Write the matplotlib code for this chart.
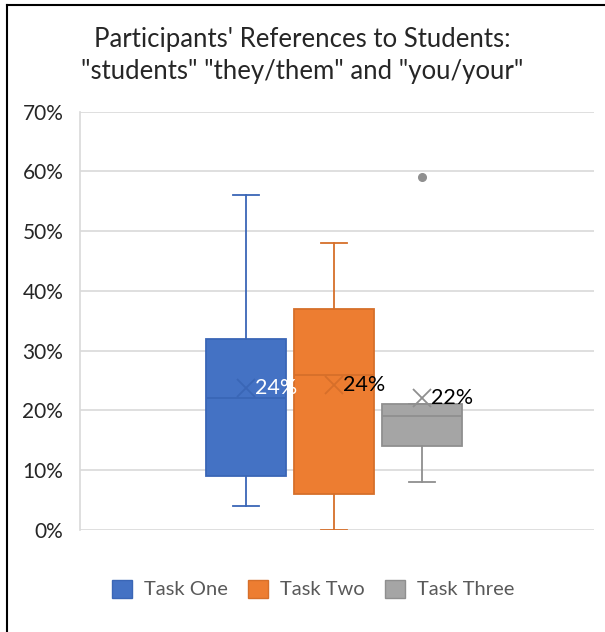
import matplotlib.pyplot as plt
from matplotlib.lines import Line2D
from matplotlib.patches import Patch
from matplotlib.ticker import PercentFormatter

plt.rcParams['font.family'] = ['Lato', 'DejaVu Sans']

# summary stats (percent)
tasks = ['Task One', 'Task Two', 'Task Three']
whislo = [4, 0, 8]
q1 = [9, 6, 14]
med = [22, 26, 19]
q3 = [32, 37, 21]
whishi = [56, 48, 21]
means = [23.7, 24.2, 22.1]
mean_labels = ['24%', '24%', '22%']
fliers = [[], [], [59]]

fills = ['#4472C4', '#ED7D31', '#A5A5A5']
edges = ['#3A66B6', '#D66F2A', '#8F8F8F']
label_colors = ['white', 'black', 'black']
yticks = [0, 10, 20, 30, 40, 50, 60, 70]

W, H = 605, 632
fig = plt.figure(figsize=(W / 100, H / 100), dpi=100)
ax = fig.add_axes([80 / W, 1 - 530 / H, 514 / W, 418.5 / H])

stats = []
for i in range(len(tasks)):
    stats.append(dict(whislo=whislo[i], q1=q1[i], med=med[i], q3=q3[i],
                      whishi=whishi[i], mean=means[i], fliers=fliers[i]))

positions = [-1, 0, 1]
for i, s in enumerate(stats):
    ax.bxp([s], positions=[positions[i]], widths=0.9, patch_artist=True,
           showmeans=False, showcaps=True, manage_ticks=False,
           boxprops=dict(facecolor=fills[i], edgecolor=edges[i], linewidth=1.3),
           medianprops=dict(color=edges[i], linewidth=1.3),
           whiskerprops=dict(color=edges[i], linewidth=1.3),
           capprops=dict(color=edges[i], linewidth=1.3),
           capwidths=0.3,
           flierprops=dict(marker='o', markerfacecolor='#8F8F8F',
                           markeredgecolor='#8F8F8F', markersize=5.5))
    ax.plot(positions[i], means[i], marker='x', color=edges[i],
            markersize=12.5, mew=1.3, zorder=5)
    ax.text(positions[i] + 0.1, means[i], mean_labels[i], color=label_colors[i],
            fontsize=15.5, va='center', ha='left', zorder=6)

ax.set_xlim(-2.886, 2.955)
ax.set_ylim(0, 70)
ax.set_yticks(yticks)
ax.yaxis.set_major_formatter(PercentFormatter(decimals=0))
ax.set_xticks([])
ax.grid(axis='y', color='#D9D9D9', linewidth=1.2)
ax.set_axisbelow(True)
for sp in ['top', 'right', 'bottom']:
    ax.spines[sp].set_visible(False)
ax.spines['left'].set_color('#D9D9D9')
ax.spines['left'].set_linewidth(1.2)
ax.tick_params(axis='y', length=0, pad=12, labelsize=15, labelcolor='#262626')

fig.text(0.5, 1 - 40 / H, "Participants' References to Students:",
         ha='center', va='center', fontsize=18.5, color='#262626')
fig.text(0.5, 1 - 72 / H, '"students" "they/them" and "you/your"',
         ha='center', va='center', fontsize=18.5, color='#262626')

handles = [Patch(facecolor=fills[i], edgecolor=edges[i], label=tasks[i])
           for i in range(len(tasks))]
fig.legend(handles=handles, loc='center', bbox_to_anchor=(0.518, 1 - 589 / H),
           ncol=3, frameon=False, fontsize=14.5, labelcolor='#595959',
           handlelength=1.0, handleheight=1.0, handletextpad=0.6,
           columnspacing=1.0)

# frame around the chart (left and top edges visible)
fig.add_artist(Line2D([7 / W, 7 / W], [0, 1 - 5 / H], color='black',
                      linewidth=1.5, transform=fig.transFigure))
fig.add_artist(Line2D([7 / W, 1], [1 - 5 / H, 1 - 5 / H], color='black',
                      linewidth=1.5, transform=fig.transFigure))

fig.savefig('out.png', dpi=100)
